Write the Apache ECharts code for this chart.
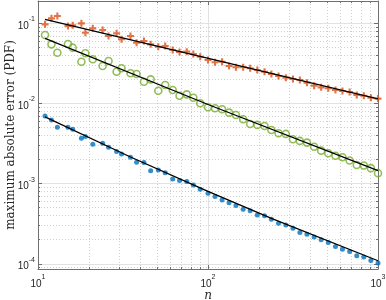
<!DOCTYPE html>
<html>
<head>
<meta charset="utf-8">
<script src="https://cdn.jsdelivr.net/npm/echarts@6/dist/echarts.min.js"></script>
<style>html,body{margin:0;padding:0;background:#fff;}#c{width:386px;height:300px;}</style>
</head>
<body>
<div id="c"></div>
<script>
const nValues = [11,12,13,15,16,18,19,21,24,26,29,31,35,38,42,46,51,56,62,68,75,82,90,100,110,121,133,146,161,177,195,215,236,260,287,316,347,382,421,463,510,562,618,681,750,825,908,1000];
const errOrange = [0.0972,0.1154,0.1233,0.0925,0.0944,0.1,0.0764,0.0866,0.0825,0.0695,0.075,0.0632,0.0695,0.0573,0.0602,0.0547,0.0511,0.0521,0.0465,0.0439,0.0443,0.0414,0.0383,0.0349,0.0327,0.0332,0.0294,0.0283,0.0283,0.0275,0.0262,0.0249,0.0233,0.0220,0.0210,0.0202,0.0196,0.0182,0.0167,0.0159,0.0155,0.0147,0.0143,0.0139,0.0128,0.0125,0.0118,0.0115];
const errGreen = [0.0715,0.0547,0.0430,0.0552,0.0497,0.0332,0.0423,0.0356,0.0294,0.0339,0.0249,0.0275,0.0238,0.0233,0.0187,0.0200,0.0144,0.0170,0.0147,0.0125,0.0130,0.0118,0.01006,0.00897,0.00871,0.00847,0.00768,0.00719,0.00635,0.00555,0.00540,0.00524,0.00467,0.00425,0.00417,0.00358,0.00341,0.00325,0.00289,0.00258,0.00239,0.00223,0.00213,0.00194,0.00171,0.00168,0.00156,0.00135];
const errBlue = [0.00698,0.00623,0.00505,0.00505,0.00477,0.00368,0.00386,0.00310,0.00319,0.00284,0.00251,0.00235,0.00213,0.00185,0.00183,0.00145,0.00148,0.00137,0.00114,0.00109,0.00106,0.000964,0.000851,0.000759,0.000689,0.000626,0.000579,0.000532,0.000480,0.000457,0.000407,0.000396,0.000360,0.000321,0.000305,0.000278,0.000245,0.000234,0.000215,0.000199,0.000184,0.000164,0.000152,0.000142,0.000126,0.000121,0.000110,0.000102];
const fitOrangeN = [11, 1000];
const fitOrange = [0.1122, 0.01138];
const fitGreenN = [11, 100, 1000];
const fitGreen = [0.0650, 0.00971, 0.00145];
const fitBlueN = [11, 35, 100, 240, 1000];
const fitBlue = [0.00679, 0.00215, 0.000800, 0.000363, 0.000109];
const xMajorTicks = [10, 100, 1000];
const xMinorTicks = [20,30,40,50,60,70,80,90,200,300,400,500,600,700,800,900];
const yMajorTicks = [1e-4, 1e-3, 1e-2, 1e-1];
const yMinorTicks = [9e-5,2e-4,3e-4,4e-4,5e-4,6e-4,7e-4,8e-4,9e-4,2e-3,3e-3,4e-3,5e-3,6e-3,7e-3,8e-3,9e-3,2e-2,3e-2,4e-2,5e-2,6e-2,7e-2,8e-2,9e-2];
const xRange = [10, 1000];
const yRange = [8.6e-5, 0.19];

const pair = (xs, ys) => xs.map((x, i) => [x, ys[i]]);
const axisColor = '#707070';
const labelColor = '#262626';
const rich = {
  b: {fontFamily: 'Liberation Sans', fontSize: 10, color: labelColor, verticalAlign: 'bottom', lineHeight: 10},
  s: {fontFamily: 'Liberation Sans', fontSize: 7, color: labelColor, verticalAlign: 'top', lineHeight: 15}
};
const fmt = v => '{b|10}{s|' + Math.round(Math.log10(v)) + '}';

function makeAxes(isX) {
  const range = isX ? xRange : yRange;
  const major = isX ? xMajorTicks : yMajorTicks;
  const minor = isX ? xMinorTicks : yMinorTicks;
  const pos = isX ? ['bottom', 'top'] : ['left', 'right'];
  const base = {type: 'log', logBase: 10, min: range[0], max: range[1]};
  return [
    Object.assign({}, base, {
      position: pos[0],
      axisLine: {show: true, lineStyle: {color: axisColor, width: 1}},
      axisTick: {show: true, inside: true, length: 4, customValues: major, lineStyle: {color: axisColor}},
      axisLabel: {show: true, customValues: major, formatter: fmt, rich: rich, margin: isX ? 5 : 3},
      splitLine: {show: true, lineStyle: {color: '#e2e2e2', width: 1, type: 'solid'}},
      name: isX ? 'n' : 'maximum absolute error (PDF)',
      nameLocation: 'middle',
      nameMoveOverlap: false,
      nameGap: isX ? 21 : 21,
      nameTextStyle: isX
        ? {fontFamily: 'DejaVu Serif', fontStyle: 'italic', fontSize: 12, color: labelColor}
        : {fontFamily: 'DejaVu Serif', fontSize: 12, color: labelColor}
    }),
    Object.assign({}, base, {
      position: pos[0],
      axisLine: {show: false},
      axisTick: {show: true, inside: true, length: 2, customValues: minor, lineStyle: {color: axisColor}},
      axisLabel: {show: false},
      splitLine: {show: true, lineStyle: {color: '#cfcfcf', width: 1, type: [1, 2]}}
    }),
    Object.assign({}, base, {
      position: pos[1],
      axisLine: {show: true, lineStyle: {color: axisColor, width: 1}},
      axisTick: {show: true, inside: true, length: 4, customValues: major, lineStyle: {color: axisColor}},
      axisLabel: {show: false},
      splitLine: {show: false}
    }),
    Object.assign({}, base, {
      position: pos[1],
      axisLine: {show: false},
      axisTick: {show: true, inside: true, length: 2, customValues: minor, lineStyle: {color: axisColor}},
      axisLabel: {show: false},
      splitLine: {show: false}
    })
  ];
}

const plusPath = 'path://M3.5,0 H6.5 V3.5 H10 V6.5 H6.5 V10 H3.5 V6.5 H0 V3.5 H3.5 Z';
const chart = echarts.init(document.getElementById('c'), null, {renderer: 'canvas'});
chart.setOption({
  animation: false,
  backgroundColor: '#fff',
  grid: {left: 38, right: 8, top: 1, bottom: 31, containLabel: false, outerBoundsMode: 'none'},
  xAxis: makeAxes(true),
  yAxis: makeAxes(false),
  series: [
    {type: 'scatter', data: pair(nValues, errOrange), symbol: plusPath, symbolSize: 7,
     itemStyle: {color: '#D95319'}, z: 3},
    {type: 'scatter', data: pair(nValues, errGreen), symbol: 'circle', symbolSize: 7,
     itemStyle: {color: 'rgba(0,0,0,0)', borderColor: '#77AC30', borderWidth: 1.6}, z: 3},
    {type: 'scatter', data: pair(nValues, errBlue), symbol: 'circle', symbolSize: 5,
     itemStyle: {color: '#0072BD'}, z: 3},
    {type: 'line', data: pair(fitOrangeN, fitOrange), showSymbol: false, symbol: 'none',
     lineStyle: {color: '#000', width: 1.3}, z: 4},
    {type: 'line', data: pair(fitGreenN, fitGreen), showSymbol: false, symbol: 'none',
     lineStyle: {color: '#000', width: 1.3}, z: 4},
    {type: 'line', data: pair(fitBlueN, fitBlue), showSymbol: false, symbol: 'none',
     lineStyle: {color: '#000', width: 1.3}, z: 4}
  ]
});
</script>
</body>
</html>
